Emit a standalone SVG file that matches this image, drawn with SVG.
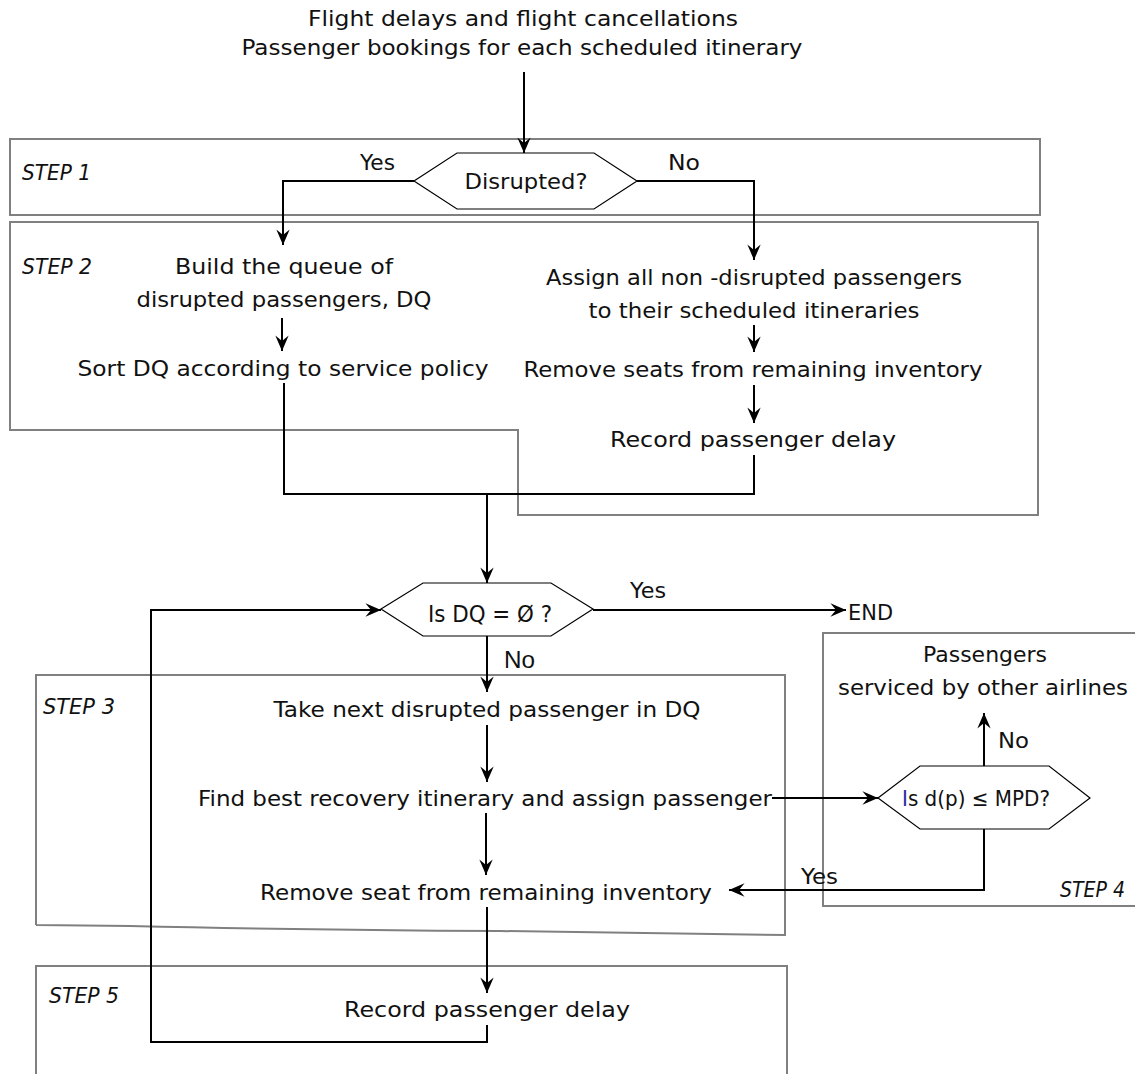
<svg xmlns="http://www.w3.org/2000/svg" width="1135" height="1074" viewBox="0 0 1135 1074">
<style>
.t{font-family:"DejaVu Sans","Liberation Sans",sans-serif;font-size:21px;fill:#111}
.c{text-anchor:middle}
.i{font-style:italic}
.box{fill:none;stroke:#808080;stroke-width:2}
.hex{fill:#fff;stroke:#000;stroke-width:1.2}
.ln{fill:none;stroke:#000;stroke-width:2}
.arr{marker-end:url(#ah)}
</style>
<defs>
<marker id="ah" markerUnits="userSpaceOnUse" markerWidth="20" markerHeight="20" viewBox="-16 -8 18 16" refX="0" refY="0" orient="auto">
<path d="M0,0 L-14,-6 L-9,0 L-14,6 Z" fill="#000"/>
</marker>
</defs>
<rect width="1135" height="1074" fill="#fff"/>

<g id="inputs">
<text class="t c" x="523" y="26" textLength="430" lengthAdjust="spacingAndGlyphs">Flight delays and flight cancellations</text>
<text class="t c" x="522" y="55" textLength="561" lengthAdjust="spacingAndGlyphs">Passenger bookings for each scheduled itinerary</text>
</g>

<g id="step1">
<rect class="box" x="10" y="139" width="1030" height="76"/>
<text class="t i" x="22" y="180" textLength="69" lengthAdjust="spacingAndGlyphs">STEP 1</text>
</g>

<g id="step2">
<path class="box" d="M10,222 L1038,222 L1038,515 L518,515 L518,430 L10,430 Z"/>
<text class="t i" x="22" y="274" textLength="70" lengthAdjust="spacingAndGlyphs">STEP 2</text>
</g>

<g id="step3">
<path class="box" d="M36,925 L36,675 L785,675 L785,935 L500,931 Q300,930 130,926 L36,925"/>
<text class="t i" x="43" y="714" textLength="72" lengthAdjust="spacingAndGlyphs">STEP 3</text>
</g>

<g id="step4">
<path class="box" d="M1140,633 L823,633 L823,906 L1140,906"/>
<text class="t i" x="1060" y="897" textLength="65" lengthAdjust="spacingAndGlyphs">STEP 4</text>
</g>

<g id="step5">
<path class="box" d="M36,1080 L36,966 L787,966 L787,1080"/>
<text class="t i" x="49" y="1003" textLength="70" lengthAdjust="spacingAndGlyphs">STEP 5</text>
</g>

<g id="disrupted">
<polygon class="hex" points="414,181 457,153 594,153 637,181 594,209 457,209"/>
<text class="t c" x="526" y="189" textLength="123" lengthAdjust="spacingAndGlyphs">Disrupted?</text>
</g>

<g id="build-queue">
<text class="t c" x="284" y="274" textLength="218" lengthAdjust="spacingAndGlyphs">Build the queue of</text>
<text class="t c" x="284" y="307" textLength="295" lengthAdjust="spacingAndGlyphs">disrupted passengers, DQ</text>
</g>

<g id="sort-dq">
<text class="t c" x="283" y="376" textLength="411" lengthAdjust="spacingAndGlyphs">Sort DQ according to service policy</text>
</g>

<g id="assign-nondisrupted">
<text class="t c" x="754" y="285" textLength="416" lengthAdjust="spacingAndGlyphs">Assign all non -disrupted passengers</text>
<text class="t c" x="754" y="318" textLength="331" lengthAdjust="spacingAndGlyphs">to their scheduled itineraries</text>
</g>

<g id="remove-seats">
<text class="t c" x="753" y="377" textLength="459" lengthAdjust="spacingAndGlyphs">Remove seats from remaining inventory</text>
</g>

<g id="record-delay-2">
<text class="t c" x="753" y="447" textLength="286" lengthAdjust="spacingAndGlyphs">Record passenger delay</text>
</g>

<g id="dq-empty">
<polygon class="hex" points="381,609 423,583 551,583 593,609 551,636 423,636"/>
<text class="t c" x="490" y="622" style="font-size:23px" textLength="124" lengthAdjust="spacingAndGlyphs">Is DQ = Ø ?</text>
</g>

<g id="end">
<text class="t" x="848" y="620" textLength="45" lengthAdjust="spacingAndGlyphs">END</text>
</g>

<g id="take-next">
<text class="t c" x="487" y="717" textLength="427" lengthAdjust="spacingAndGlyphs">Take next disrupted passenger in DQ</text>
</g>

<g id="find-best">
<text class="t c" x="485" y="806" textLength="574" lengthAdjust="spacingAndGlyphs">Find best recovery itinerary and assign passenger</text>
</g>

<g id="remove-seat">
<text class="t c" x="486" y="900" textLength="452" lengthAdjust="spacingAndGlyphs">Remove seat from remaining inventory</text>
</g>

<g id="record-delay-5">
<text class="t c" x="487" y="1017" textLength="286" lengthAdjust="spacingAndGlyphs">Record passenger delay</text>
</g>

<g id="mpd-check">
<polygon class="hex" points="878,798 920,766 1049,766 1090,798 1049,829 920,829"/>
<text class="t" x="902" y="806" style="font-size:22px" textLength="148" lengthAdjust="spacingAndGlyphs"><tspan fill="#2a2aa8">I</tspan>s d(p) ≤ MPD?</text>
</g>

<g id="other-airlines">
<text class="t c" x="985" y="662" textLength="124" lengthAdjust="spacingAndGlyphs">Passengers</text>
<text class="t c" x="983" y="695" textLength="290" lengthAdjust="spacingAndGlyphs">serviced by other airlines</text>
</g>

<g id="connectors">
<path class="ln arr" d="M524,72 L524,153"/>
<path class="ln arr" d="M414,181 L283,181 L283,245"/>
<path class="ln arr" d="M637,181 L754,181 L754,260"/>
<path class="ln arr" d="M282,318 L282,351"/>
<path class="ln arr" d="M754,325 L754,352"/>
<path class="ln arr" d="M754,385 L754,423"/>
<path class="ln" d="M284,383 L284,494 L754,494 L754,455"/>
<path class="ln arr" d="M487,494 L487,583"/>
<path class="ln arr" d="M593,610 L846,610"/>
<path class="ln arr" d="M487,636 L487,692"/>
<path class="ln arr" d="M487,725 L487,782"/>
<path class="ln arr" d="M486,813 L486,875"/>
<path class="ln arr" d="M772,798 L878,798"/>
<path class="ln arr" d="M984,766 L984,713"/>
<path class="ln arr" d="M984,829 L984,890 L729,890"/>
<path class="ln arr" d="M487,907 L487,993"/>
<path class="ln arr" d="M487,1025 L487,1042 L151,1042 L151,610 L381,610"/>
<text class="t" x="360" y="170" textLength="35" lengthAdjust="spacingAndGlyphs">Yes</text>
<text class="t" x="668" y="170" textLength="32" lengthAdjust="spacingAndGlyphs">No</text>
<text class="t" x="630" y="598" textLength="36" lengthAdjust="spacingAndGlyphs">Yes</text>
<text class="t" x="504" y="668" style="font-family:'Liberation Sans',sans-serif;font-size:23px" textLength="31" lengthAdjust="spacingAndGlyphs">No</text>
<text class="t" x="998" y="748" textLength="31" lengthAdjust="spacingAndGlyphs">No</text>
<text class="t" x="801" y="884" textLength="37" lengthAdjust="spacingAndGlyphs">Yes</text>
</g>
</svg>
